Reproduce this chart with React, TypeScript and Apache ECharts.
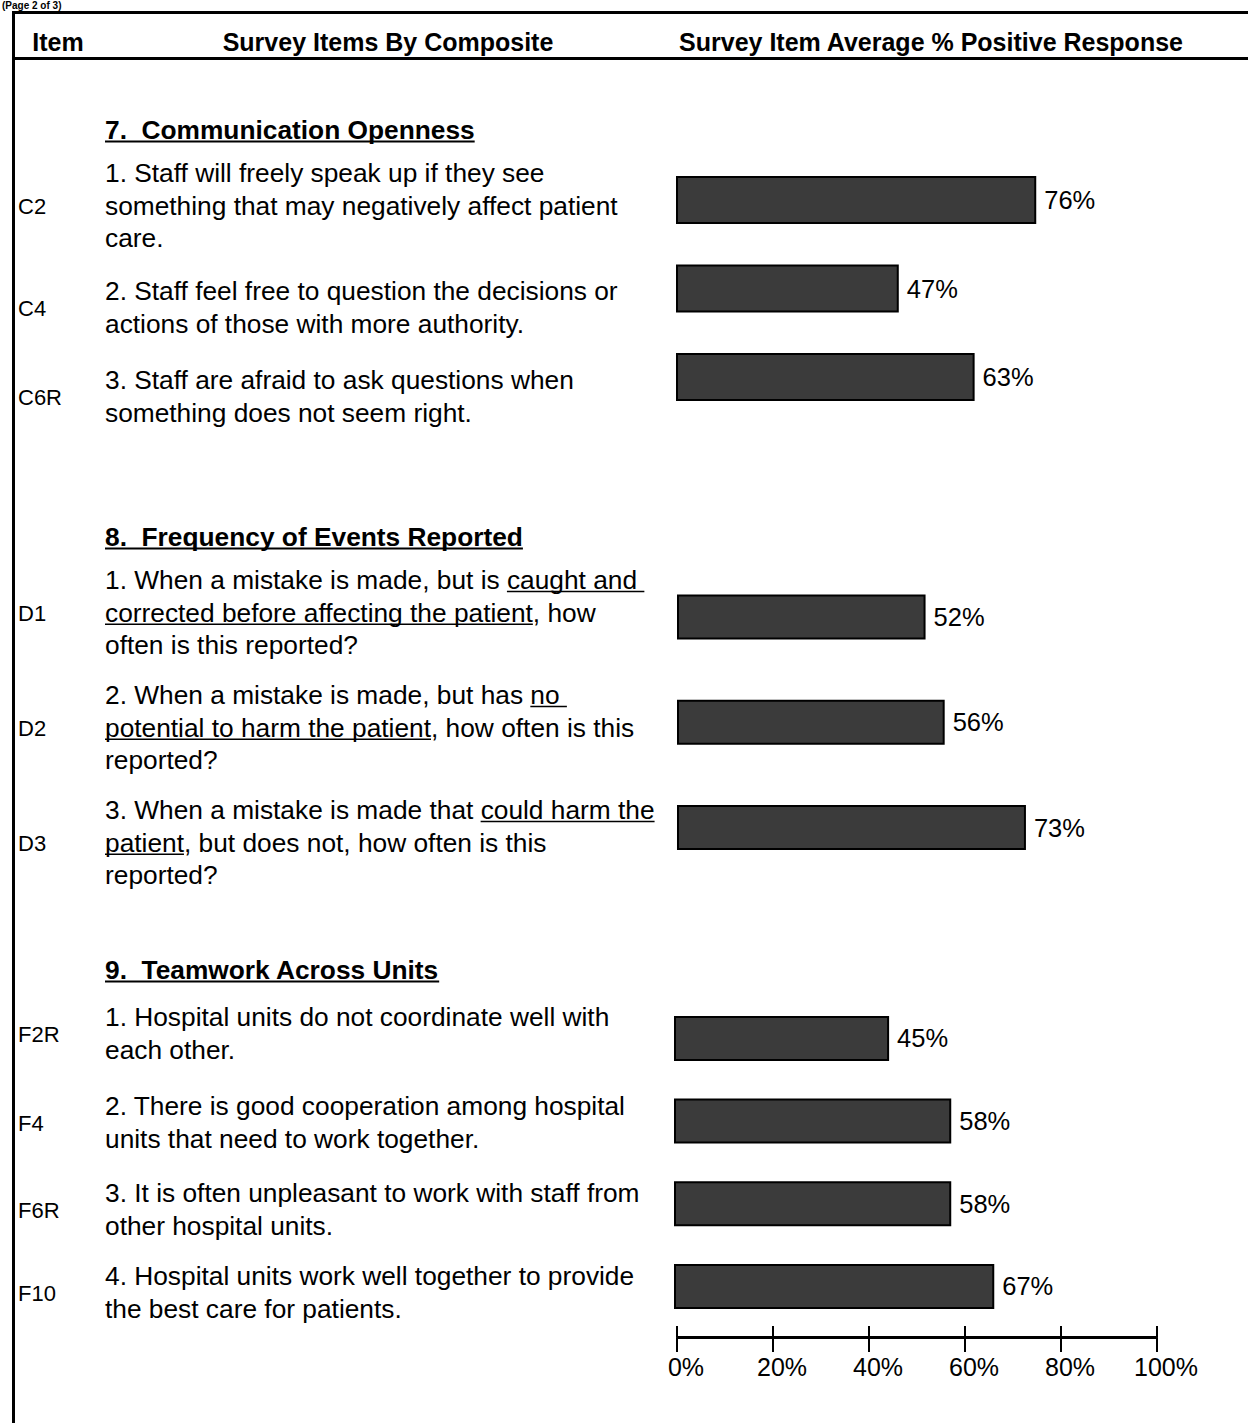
import React, { useEffect, useRef } from "react";
import * as echarts from "echarts";

const FONT = 'Arial, "Liberation Sans", Helvetica, sans-serif';

// ---- data ----
const headers = ["Item", "Survey Items By Composite", "Survey Item Average % Positive Response"];
const pageNote = "(Page 2 of 3)";
const composites = ["7.  Communication Openness", "8.  Frequency of Events Reported", "9.  Teamwork Across Units"];

const group1Codes = ["C2", "C4", "C6R"];
const group1Values = [76, 47, 63];
const group1Texts = [
  ["1. Staff will freely speak up if they see", "something that may negatively affect patient", "care."],
  ["2. Staff feel free to question the decisions or", "actions of those with more authority."],
  ["3. Staff are afraid to ask questions when", "something does not seem right."],
];

const group2Codes = ["D1", "D2", "D3"];
const group2Values = [52, 56, 73];
const group2Texts = [
  ["1. When a mistake is made, but is _caught and _", "_corrected before affecting the patient_, how", "often is this reported?"],
  ["2. When a mistake is made, but has _no _", "_potential to harm the patient_, how often is this", "reported?"],
  ["3. When a mistake is made that _could harm the_", "_patient_, but does not, how often is this", "reported?"],
];

const group3Codes = ["F2R", "F4", "F6R", "F10"];
const group3Values = [45, 58, 58, 67];
const group3Texts = [
  ["1. Hospital units do not coordinate well with", "each other."],
  ["2. There is good cooperation among hospital", "units that need to work together."],
  ["3. It is often unpleasant to work with staff from", "other hospital units."],
  ["4. Hospital units work well together to provide", "the best care for patients."],
];

const axisMin = 0;
const axisMax = 100;
const axisStep = 20;

// ---- layout ----
const W = 1248;
const H = 1423;
const TEXT_X = 105;
const CODE_X = 18;
const LINE_STEP = 32.7;
const BODY_SIZE = 26.3;
const HEAD_SIZE = 25;

const groups = [
  { codes: group1Codes, values: group1Values, texts: group1Texts, titleY: 130, firstLineY: [173, 291, 380], gridLeft: 676, gridWidth: 474, gridTop: 155.75, gridHeight: 265.5, barWidth: 48 },
  { codes: group2Codes, values: group2Values, texts: group2Texts, titleY: 537, firstLineY: [580, 695, 810], gridLeft: 677, gridWidth: 478, gridTop: 564.4, gridHeight: 315.75, barWidth: 45 },
  { codes: group3Codes, values: group3Values, texts: group3Texts, titleY: 970, firstLineY: [1017, 1106, 1193, 1276], gridLeft: 674, gridWidth: 478, gridTop: 997.1, gridHeight: 330.7, barWidth: 45 },
];

let measureCtx: CanvasRenderingContext2D | null = null;
function measure(text: string, size: number, bold = false): number {
  if (!measureCtx) {
    const c = document.createElement("canvas");
    measureCtx = c.getContext("2d");
  }
  if (!measureCtx) return text.length * size * 0.5;
  measureCtx.font = `${bold ? "bold " : ""}${size}px ${FONT}`;
  return measureCtx.measureText(text).width;
}

function textEl(text: string, x: number, y: number, size: number, bold = false, align = "left") {
  return {
    type: "text",
    x,
    y,
    silent: true,
    style: {
      text,
      fill: "#000",
      fontSize: size,
      fontWeight: bold ? "bold" : "normal",
      fontFamily: FONT,
      textAlign: align,
      align,
      textVerticalAlign: "middle",
      verticalAlign: "middle",
    },
  };
}

function lineEl(x1: number, y1: number, x2: number, y2: number, w: number) {
  return {
    type: "line",
    silent: true,
    shape: { x1, y1, x2, y2 },
    style: { stroke: "#000", lineWidth: w },
  };
}

function buildGraphics() {
  const els: any[] = [];
  // small note above the frame
  els.push({
    type: "text",
    x: 2,
    y: 0,
    silent: true,
    style: { text: pageNote, fill: "#000", fontSize: 10, fontWeight: "bold", fontFamily: FONT, textVerticalAlign: "top", verticalAlign: "top" },
  });
  // frame
  els.push(lineEl(13.5, 11, 13.5, H, 3));
  els.push(lineEl(12, 12.5, W, 12.5, 3));
  els.push(lineEl(12, 58.5, W, 58.5, 3));
  // headers
  els.push(textEl(headers[0], 58, 42, HEAD_SIZE, true, "center"));
  els.push(textEl(headers[1], 388, 42, HEAD_SIZE, true, "center"));
  els.push(textEl(headers[2], 931, 42, HEAD_SIZE, true, "center"));

  groups.forEach((g, gi) => {
    const title = composites[gi];
    els.push(textEl(title, TEXT_X, g.titleY, BODY_SIZE, true));
    const tw = measure(title, BODY_SIZE, true);
    els.push(lineEl(TEXT_X, g.titleY + 11.5, TEXT_X + tw, g.titleY + 11.5, 2));

    g.texts.forEach((lines, ii) => {
      const y0 = g.firstLineY[ii];
      lines.forEach((raw, li) => {
        const y = y0 + li * LINE_STEP;
        const parts = raw.split("_");
        const plain = parts.join("");
        els.push(textEl(plain, TEXT_X, y, BODY_SIZE));
        let x = TEXT_X;
        parts.forEach((p, pi) => {
          const w = measure(p, BODY_SIZE);
          if (pi % 2 === 1 && p.length) {
            els.push(lineEl(x, y + 11.5, x + w, y + 11.5, 1.5));
          }
          x += w;
        });
      });
      const codeY = y0 + ((lines.length - 1) * LINE_STEP) / 2 + 1;
      els.push(textEl(g.codes[ii], CODE_X, codeY, 22));
    });
  });
  return els;
}

export default function App() {
  const ref = useRef<HTMLDivElement>(null);

  useEffect(() => {
    if (!ref.current) return;
    const chart = echarts.init(ref.current, undefined, { renderer: "svg" });

    const grid: any[] = [];
    const xAxis: any[] = [];
    const yAxis: any[] = [];
    const series: any[] = [];

    groups.forEach((g, gi) => {
      grid.push({ left: g.gridLeft, width: g.gridWidth, top: g.gridTop, height: g.gridHeight });
      xAxis.push({ type: "value", gridIndex: gi, min: axisMin, max: axisMax, show: false });
      yAxis.push({ type: "category", gridIndex: gi, data: g.codes, inverse: true, show: false });
      series.push({
        type: "bar",
        xAxisIndex: gi,
        yAxisIndex: gi,
        data: g.values,
        barWidth: g.barWidth,
        itemStyle: { color: "#3b3b3b", borderColor: "#000", borderWidth: 2 },
        label: {
          show: true,
          position: "right",
          distance: 8,
          formatter: "{c}%",
          fontSize: 25.5,
          fontFamily: FONT,
          color: "#000",
        },
        silent: true,
      });
    });

    // shared percentage axis drawn below the last group
    const ai = groups.length;
    grid.push({ left: 677, width: 480, top: 1337, height: 1 });
    xAxis.push({
      type: "value",
      gridIndex: ai,
      position: "bottom",
      min: axisMin,
      max: axisMax,
      interval: axisStep,
      axisLine: { show: true, lineStyle: { color: "#000", width: 2 } },
      axisTick: { show: true, length: 14, lineStyle: { color: "#000", width: 2 } },
      axisLabel: { show: true, formatter: "{value}%", fontSize: 25, fontFamily: FONT, color: "#000", margin: 16, padding: [0, 0, 0, 18] },
      splitLine: { show: false },
    });
    xAxis.push({
      type: "value",
      gridIndex: ai,
      position: "top",
      min: axisMin,
      max: axisMax,
      interval: axisStep,
      axisLine: { show: true, lineStyle: { color: "#000", width: 2 } },
      axisTick: { show: true, length: 11, lineStyle: { color: "#000", width: 2 } },
      axisLabel: { show: false },
      splitLine: { show: false },
    });
    yAxis.push({ type: "category", gridIndex: ai, data: [""], show: false });

    chart.setOption({
      animation: false,
      backgroundColor: "#fff",
      grid,
      xAxis,
      yAxis,
      series,
      graphic: buildGraphics(),
    });

    return () => chart.dispose();
  }, []);

  return <div ref={ref} style={{ position: "absolute", left: 0, top: 0, width: W, height: H }} />;
}
